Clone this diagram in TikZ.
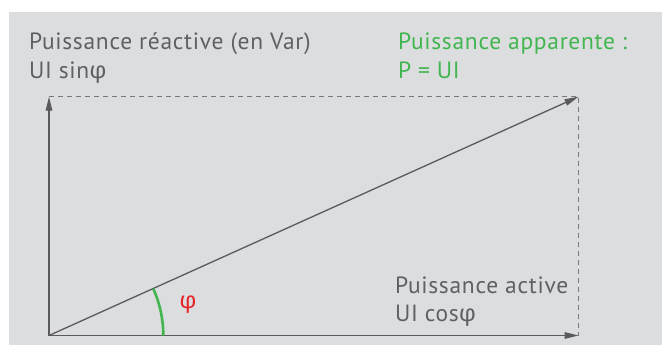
\documentclass[tikz,border=0pt]{standalone}
\usepackage{fontspec}
\setmainfont{PT Sans}[LetterSpace=3]
\newfontfamily\grkfont{Fira Sans}
\usetikzlibrary{arrows.meta,calc}
\definecolor{bggrey}{RGB}{220,221,223}
\definecolor{txtgrey}{RGB}{95,96,98}
\definecolor{linegrey}{RGB}{90,90,92}
\definecolor{dashgrey}{RGB}{120,120,122}
\definecolor{apgreen}{RGB}{65,182,80}
\definecolor{phired}{RGB}{228,37,42}
\newcommand{\phisym}{{\grkfont φ}}
\tikzset{
  lbl/.style={anchor=base west, inner sep=0pt, outer sep=0pt, font=\fontsize{23.5}{28}\selectfont},
  axis/.style={draw=linegrey, line width=1.3pt, -{Triangle[length=14pt,width=6.5pt]}},
  guide/.style={draw=dashgrey, line width=1.2pt, dash pattern=on 5pt off 4pt},
}
\begin{document}
\begin{tikzpicture}[x=1pt,y=-1pt]
\useasboundingbox (0,0) rectangle (662,345);
\fill[white] (0,0) rectangle (662,345);
\fill[bggrey] (9,12) rectangle (662,345);
\coordinate (O) at (49,335.5);
\coordinate (X) at (578.5,335.5);
\coordinate (Y) at (49,96.7);
\coordinate (P) at (578.5,96.7);
\coordinate (A0) at ($(O)+(114.3,0)$);
\draw[guide] (Y) -- (P) -- (X);
\draw[axis] (O) -- (X);
\draw[axis] (O) -- (Y);
\draw[axis] (O) -- (P);
\draw[apgreen, line width=2.6pt] (A0) arc[start angle=0, end angle=-24.2, radius=114.3];
\node[lbl, text=txtgrey] (r1) at (29,50) {Puissance réactive (en Var)};
\node[lbl, text=txtgrey] (r2) at (29,78.3) {UI sin\phisym};
\node[lbl, text=apgreen] (a1) at (398,50) {Puissance apparente :};
\node[lbl, text=apgreen] (a2) at (398,78.3) {P = UI};
\node[lbl, text=txtgrey] (c1) at (395,293.3) {Puissance active};
\node[lbl, text=txtgrey] (c2) at (395,321.7) {UI cos\phisym};
\node[text=phired, inner sep=0pt, font=\fontsize{23.5}{28}\selectfont] (phi) at (188,305) {\phisym};
\end{tikzpicture}
\end{document}
